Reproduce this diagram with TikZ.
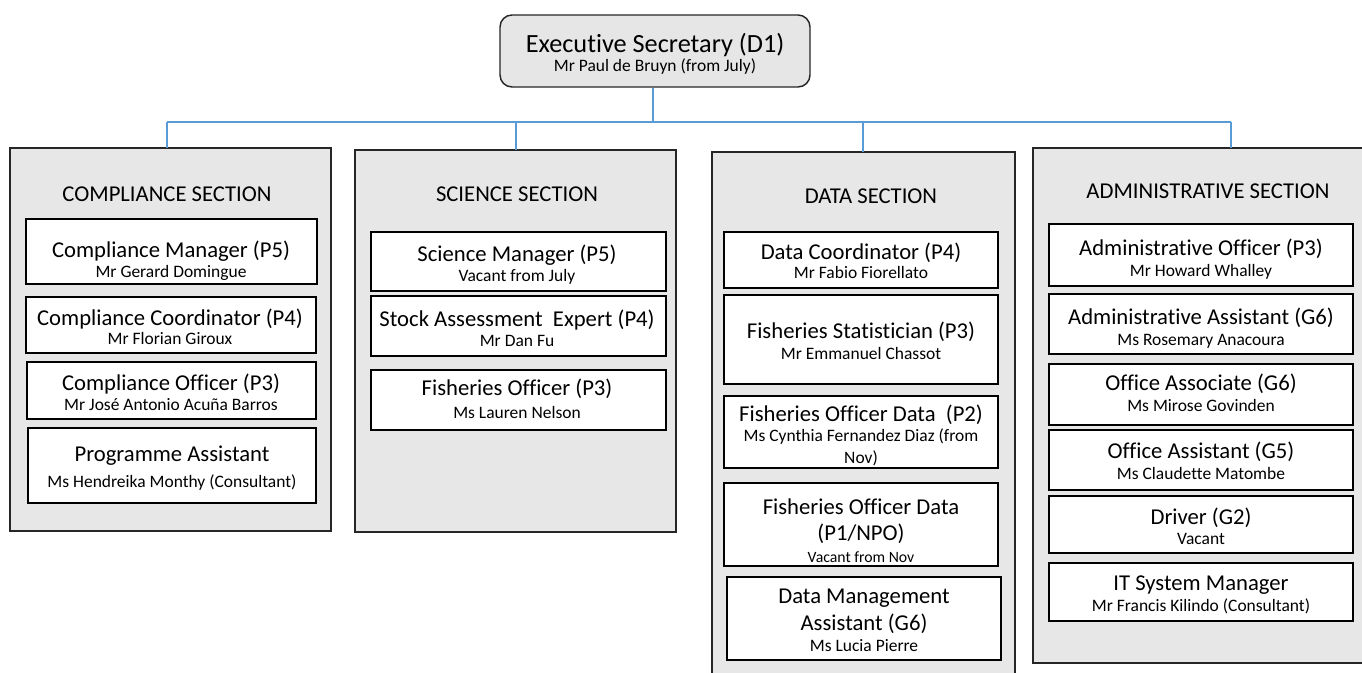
\documentclass[tikz,border=0pt]{standalone}
\usepackage{fontspec}
\setmainfont{Carlito}[Ligatures={NoCommon}]
\definecolor{secfill}{RGB}{231,231,231}
\definecolor{topfill}{RGB}{231,230,230}
\definecolor{linkblue}{RGB}{91,155,213}
\newcommand\jbox[5]{\node[jobbox, minimum width={(#4-#2)*0.75pt}, minimum height={(#5-#3)*0.75pt}] (#1) at ({(#2+#4)/2},{(#3+#5)/2}) {};}
\newcommand\secbx[5]{\node[secbox, minimum width={(#4-#2)*0.75pt}, minimum height={(#5-#3)*0.75pt}] (#1) at ({(#2+#4)/2},{(#3+#5)/2}) {};}
\newcommand\jt[4]{\node[jtitle] (#1) at (#2,#3) {#4};}
\newcommand\jn[4]{\node[jname] (#1) at (#2,#3) {#4};}
\begin{document}
\begin{tikzpicture}[x=0.75pt,y=-0.75pt,
  jobbox/.style={draw=black, line width=1.1pt, fill=white, inner sep=0pt, outer sep=0pt},
  secbox/.style={draw=black!85, line width=0.9pt, fill=secfill, inner sep=0pt, outer sep=0pt},
  jtitle/.style={inner sep=0pt, anchor=base, yshift=-7pt, font=\fontsize{17}{19}\selectfont},
  jname/.style={inner sep=0pt, anchor=base, yshift=-5pt, font=\fontsize{13.1}{15}\selectfont},
  sectitle/.style={inner sep=0pt, anchor=base, yshift=-6.5pt, font=\fontsize{17}{19}\selectfont},
  link/.style={draw=linkblue, line width=1.5pt}]
\useasboundingbox (0,0) rectangle (1362,673);
\fill[white] (0,0) rectangle (1362,673);

% top box
\node[draw=black!85, line width=1.1pt, fill=topfill, rounded corners=9pt, inner sep=0pt,
  minimum width={310*0.75pt}, minimum height={72*0.75pt}] (es) at (655,51) {};
\node[inner sep=0pt, anchor=base, yshift=-8.7pt, font=\fontsize{19.7}{22}\selectfont] (est) at (655,41) {Executive Secretary (D1)};
\node[jname] (esn) at (655,65) {Mr Paul de Bruyn (from July)};

% sections
\secbx{cs}{10}{148}{331}{531}
\secbx{ss}{355}{150}{676}{532}
\node[secbox, draw=none, minimum width={303*0.75pt}, minimum height={540*0.75pt}] (ds) at (863.5,422) {};
\draw[draw=black!85, line width=0.9pt] (ds.south west) -- (ds.north west) -- (ds.north east) -- (ds.south east);
\node[secbox, minimum width={340*0.75pt}, minimum height={515*0.75pt}] (as) at (1203,405.5) {};

% connectors
\coordinate (hub) at (653,122);
\coordinate (c1) at (167,122);
\coordinate (c2) at (516,122);
\coordinate (c3) at (863,122);
\coordinate (c4) at (1231,122);
\draw[link] (es.south -| hub) -- (hub);
\draw[link] (c1) -- (c4);
\draw[link] (c1) -- (cs.north -| c1);
\draw[link] (c2) -- (ss.north -| c2);
\draw[link] (c3) -- (ds.north -| c3);
\draw[link] (c4) -- (as.north -| c4);

% section titles
\node[sectitle] (cst) at (167,193) {COMPLIANCE SECTION};
\node[sectitle] (sst) at (517,193) {SCIENCE SECTION};
\node[sectitle] (dst) at (871,195) {DATA SECTION};
\node[sectitle] (ast) at (1208,190) {ADMINISTRATIVE SECTION};

% compliance
\jbox{cm}{26}{219}{317}{284}
\jt{cmt}{171}{248}{Compliance Manager (P5)}
\jn{cmn}{171}{271}{Mr Gerard Domingue}
\jbox{cc}{26}{297}{316}{353}
\jt{cct}{170}{316}{Compliance Coordinator (P4)}
\jn{ccn}{170}{338}{Mr Florian Giroux}
\jbox{co}{27}{362}{316}{419}
\jt{cot}{171}{381}{Compliance Officer (P3)}
\jn{con}{171}{404}{Mr José Antonio Acuña Barros}
\jbox{pa}{28}{428}{316}{503}
\jt{pat}{172}{452}{Programme Assistant}
\jn{pan}{172}{481}{Ms Hendreika Monthy (Consultant)}

% science
\jbox{sm}{371}{232}{666}{291}
\jt{smt}{517}{252}{Science Manager (P5)}
\jn{smn}{517}{275}{Vacant from July}
\jbox{sa}{371}{296}{666}{356}
\jt{sat}{517}{317}{Stock Assessment~ Expert (P4)}
\jn{san}{517}{340}{Mr Dan Fu}
\jbox{fo}{371}{370}{666}{430}
\jt{fot}{517}{386}{Fisheries Officer (P3)}
\jn{fon}{517}{412}{Ms Lauren Nelson}

% data
\jbox{dc}{724}{232}{998}{288}
\jt{dct}{861}{250}{Data Coordinator (P4)}
\jn{dcn}{861}{272}{Mr Fabio Fiorellato}
\jbox{fs}{724}{295}{998}{384}
\jt{fst}{861}{329}{Fisheries Statistician (P3)}
\jn{fsn}{861}{353}{Mr Emmanuel Chassot}
\jbox{fd}{724}{396}{998}{468}
\jt{fdt}{861}{412}{Fisheries Officer Data~ (P2)}
\jn{fdn}{861}{435}{Ms Cynthia Fernandez Diaz (from}
\jn{fdn2}{861}{457}{Nov)}
\jbox{fe}{724}{483}{998}{566}
\jt{fet}{861}{505}{Fisheries Officer Data}
\jt{fet2}{861}{531}{(P1/NPO)}
\node[inner sep=0pt, anchor=base, yshift=-4.6pt, font=\fontsize{11.8}{13}\selectfont] (fen) at (861,556) {Vacant from Nov};
\jbox{dm}{727}{577}{1001}{660}
\jt{dmt}{864}{594}{Data Management}
\jt{dmt2}{864}{621}{Assistant (G6)}
\jn{dmn}{864}{645}{Ms Lucia Pierre}

% admin
\jbox{ao}{1049}{224}{1353}{286}
\jt{aot}{1201}{246}{Administrative Officer (P3)}
\jn{aon}{1201}{270}{Mr Howard Whalley}
\jbox{aa}{1049}{294}{1353}{354}
\jt{aat}{1201}{315}{Administrative Assistant (G6)}
\jn{aan}{1201}{339}{Ms Rosemary Anacoura}
\jbox{oa}{1049}{364}{1353}{425}
\jt{oat}{1201}{381}{Office Associate (G6)}
\jn{oan}{1201}{405}{Ms Mirose Govinden}
\jbox{os}{1049}{430}{1353}{490}
\jt{ost}{1201}{449}{Office Assistant (G5)}
\jn{osn}{1201}{473}{Ms Claudette Matombe}
\jbox{dr}{1049}{496}{1353}{553}
\jt{drt}{1201}{515}{Driver (G2)}
\jn{drn}{1201}{538}{Vacant}
\jbox{it}{1049}{563}{1353}{621}
\jt{itt}{1201}{581}{IT System Manager}
\jn{itn}{1201}{605}{Mr Francis Kilindo (Consultant)}
\end{tikzpicture}
\end{document}
